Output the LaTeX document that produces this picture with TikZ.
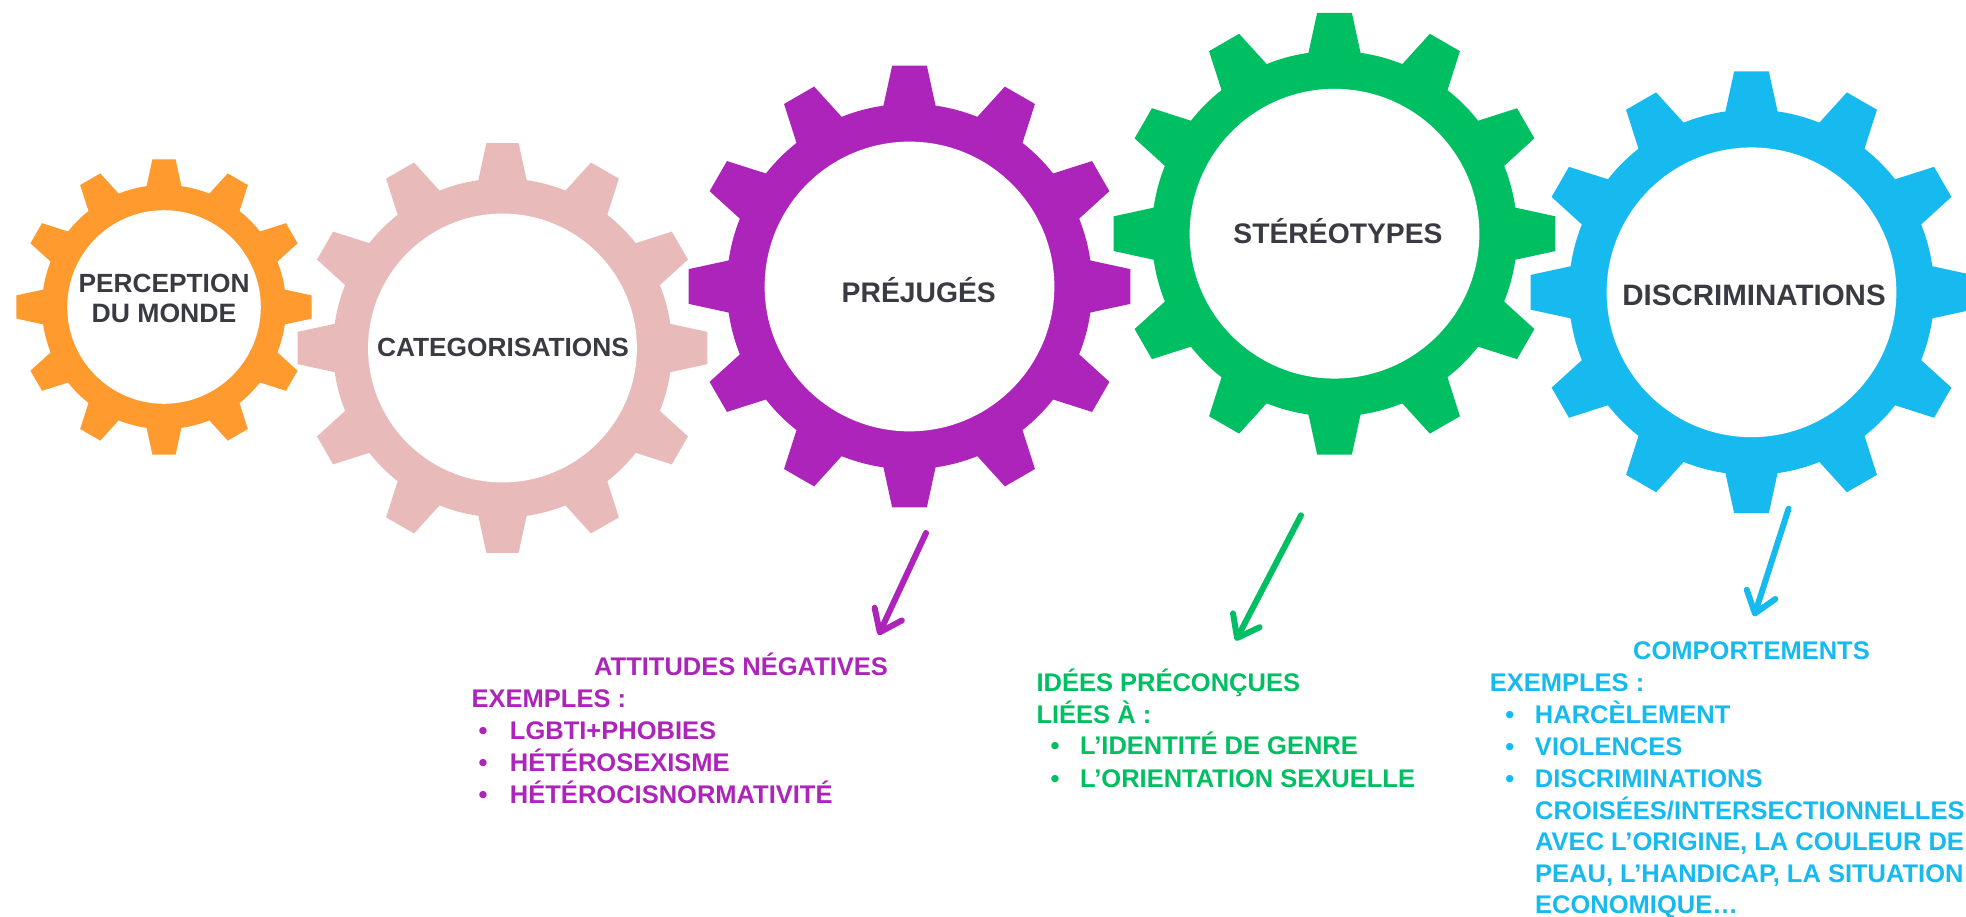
\documentclass[tikz,border=0pt]{standalone}
\usepackage{fontspec}
\setmainfont{Liberation Sans}
\usetikzlibrary{arrows.meta}
\definecolor{cOrange}{HTML}{FE9A2E}
\definecolor{cPink}{HTML}{E8BBBA}
\definecolor{cPurple}{HTML}{AD24BA}
\definecolor{cGreen}{HTML}{00BF63}
\definecolor{cBlue}{HTML}{16BAEF}
\definecolor{cText}{HTML}{3A3A42}
\newcommand\drawgear[4]{%
 \begin{scope}[shift={(#1,#2)}, scale=#3]
  \fill[#4] (81.8:0.825) \foreach \a in {90,120,...,420}{ -- (\a-8.2:0.825) -- (\a-4.5:1) -- (\a+4.5:1) -- (\a+8.2:0.825) arc[start angle=\a+8.2, end angle=\a+21.8, radius=0.825]} -- cycle;
  \fill[white] (0,0) circle[radius=0.654];
 \end{scope}}
\newcommand\fsz[1]{\bfseries\fontsize{#1}{#1}\selectfont}
\tikzset{
  glabel/.style={anchor=base, inner sep=0pt, text=cText},
  btxt/.style={anchor=base west, inner sep=0pt, font=\fsz{25.5}},
  arr/.style={line width=6pt, line cap=round, -{Straight Barb[length=20pt, width=30pt, round]}},
}
\begin{document}
\begin{tikzpicture}[x=1pt, y=-1pt]
\useasboundingbox (0,0) rectangle (1966,917);
\fill[white] (0,0) rectangle (1966,917);
% gears
\drawgear{164}{307}{148}{cOrange}
\drawgear{502.5}{348}{205.5}{cPink}
\drawgear{909.5}{286.5}{221.5}{cPurple}
\drawgear{1334.5}{233.7}{221.5}{cGreen}
\drawgear{1751.5}{292.3}{221.5}{cBlue}
% gear labels
\node[glabel, font=\fsz{26.3}] (perc1) at (164,293) {PERCEPTION};
\node[glabel, font=\fsz{26.6}] (perc2) at (164,323) {DU MONDE};
\node[glabel, font=\fsz{26.3}] (categ) at (503,357) {CATEGORISATIONS};
\node[glabel, font=\fsz{28.3}] (prej) at (918.8,302.3) {PRÉJUGÉS};
\node[glabel, font=\fsz{28.3}] (stereo) at (1338,244) {STÉRÉOTYPES};
\node[glabel, font=\fsz{29.5}] (discr) at (1754,306) {DISCRIMINATIONS};
% arrows
\coordinate (pa1) at (926,533);
\coordinate (pa2) at (878.5,635);
\coordinate (ga1) at (1301,515.3);
\coordinate (ga2) at (1235.7,640.7);
\coordinate (ba1) at (1788.6,508.7);
\coordinate (ba2) at (1754,616.3);
\draw[arr, cPurple] (pa1) -- (pa2);
\draw[arr, cGreen] (ga1) -- (ga2);
\draw[arr, cBlue] (ba1) -- (ba2);
% purple block
\begin{scope}[every node/.style={btxt, text=cPurple}]
\node (pt1) at (594,675.3) {ATTITUDES NÉGATIVES};
\node (pt2) at (471.5,707) {EXEMPLES :};
\node (pt3) at (478.3,739) {\makebox[31.5pt][l]{•}LGBTI+PHOBIES};
\node (pt4) at (478.3,771.3) {\makebox[31.5pt][l]{•}HÉTÉROSEXISME};
\node (pt5) at (478.3,803.3) {\makebox[31.5pt][l]{•}HÉTÉROCISNORMATIVITÉ};
\end{scope}
% green block
\begin{scope}[every node/.style={btxt, text=cGreen}]
\node (gt1) at (1036.3,691.3) {IDÉES PRÉCONÇUES};
\node (gt2) at (1036.3,723) {LIÉES À :};
\node (gt3) at (1050.5,754.7) {\makebox[29.5pt][l]{•}L’IDENTITÉ DE GENRE};
\node (gt4) at (1050.5,787) {\makebox[29.5pt][l]{•}L’ORIENTATION SEXUELLE};
\end{scope}
% blue block
\begin{scope}[every node/.style={btxt, text=cBlue}]
\node (bt1) at (1633,659.7) {COMPORTEMENTS};
\node (bt2) at (1489.6,691.3) {EXEMPLES :};
\node (bt3) at (1505.2,723.7) {\makebox[29.6pt][l]{•}HARCÈLEMENT};
\node (bt4) at (1505.2,755.3) {\makebox[29.6pt][l]{•}VIOLENCES};
\node (bt5) at (1505.2,787.3) {\makebox[29.6pt][l]{•}DISCRIMINATIONS};
\node (bt6) at (1535,819.3) {CROISÉES/INTERSECTIONNELLES};
\node (bt7) at (1535,850.7) {AVEC L’ORIGINE, LA COULEUR DE};
\node (bt8) at (1535,882) {PEAU, L’HANDICAP, LA SITUATION};
\node (bt9) at (1535,913.5) {ECONOMIQUE…};
\end{scope}
\end{tikzpicture}
\end{document}
